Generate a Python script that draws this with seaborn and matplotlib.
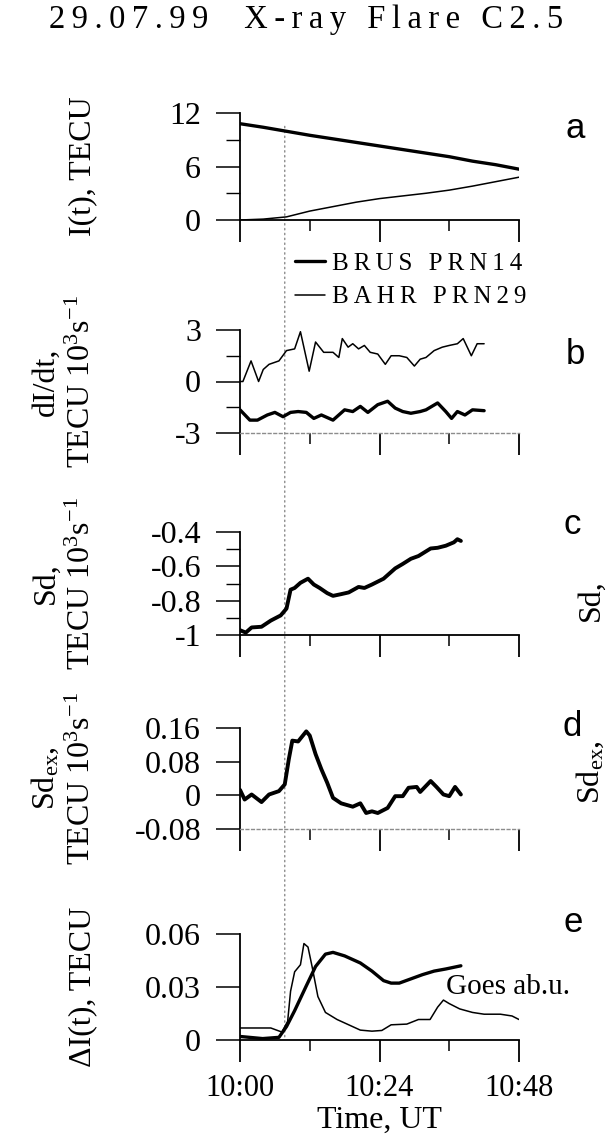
import matplotlib
matplotlib.use("Agg")
import matplotlib.pyplot as plt
import seaborn as sns
from matplotlib.patches import ConnectionPatch

# time axis (minutes after 10:00 UT)
x_major = [0, 24, 48]
x_minor = [12, 36]
x_labels = ["10:00", "10:24", "10:48"]
flare_t = 7.7

# panel a: I(t), TECU
t_a = [0, 4, 8, 12, 16, 20, 24, 28, 32, 36, 40, 44, 48]
I_brus = [10.8, 10.4, 9.95, 9.5, 9.1, 8.7, 8.3, 7.9, 7.5, 7.1, 6.6, 6.2, 5.7]
I_bahr = [0.0, 0.1, 0.35, 1.0, 1.5, 2.0, 2.4, 2.7, 3.0, 3.35, 3.8, 4.3, 4.8]

# panel b: dI/dt
t_b_bahr = [0, 0.5, 1.9, 3.2, 4, 5, 6.7, 8, 9.4, 10.4, 11.9, 13, 14.4, 16, 17, 17.6, 18.6,
            19.4, 20.4, 21.4, 22.4, 23.7, 25, 26, 27.4, 28.7, 30, 31, 32, 33.4, 34.8, 36,
            37.4, 38.4, 39.8, 40.8, 42]
dI_bahr = [0, 0, 1.2, 0, 0.7, 1.0, 1.2, 1.8, 1.9, 2.9, 0.6, 2.3, 1.7, 1.7, 1.4, 2.5, 2.0,
           2.2, 1.9, 2.1, 1.7, 1.6, 1.0, 1.5, 1.5, 1.4, 0.9, 1.3, 1.4, 1.8, 2.0, 2.1,
           2.2, 2.5, 1.5, 2.2, 2.2]
t_b_brus = [0, 1.7, 3, 4.7, 6, 7.4, 8.7, 10, 11.4, 12.7, 14, 16, 18, 19.4, 20.7, 22, 23.7,
            25.4, 26.7, 28, 29.4, 31, 32, 34, 35.4, 36.4, 37.4, 38.7, 40, 42]
dI_brus = [-1.65, -2.25, -2.25, -1.95, -1.8, -2.05, -1.8, -1.75, -1.8, -2.15, -1.95, -2.25,
           -1.65, -1.75, -1.45, -1.8, -1.35, -1.15, -1.55, -1.75, -1.85, -1.75, -1.65,
           -1.25, -1.75, -2.15, -1.75, -1.95, -1.65, -1.7]

# panel c: Sd
t_c = [0, 1, 2, 3.7, 5.3, 7, 8, 8.7, 9.4, 10.4, 11.7, 12.7, 13.7, 15, 16, 17.4, 18.7,
       20.4, 21.4, 22.7, 24.7, 26.7, 28, 29.4, 30.7, 32.8, 34, 35.4, 36.8, 37.4, 38]
sd = [-0.972, -0.986, -0.956, -0.952, -0.916, -0.886, -0.846, -0.736, -0.726, -0.696,
      -0.672, -0.706, -0.726, -0.756, -0.772, -0.762, -0.752, -0.72, -0.726, -0.706,
      -0.672, -0.612, -0.586, -0.556, -0.54, -0.496, -0.492, -0.48, -0.46, -0.442, -0.452]

# panel d: Sd_ex
t_d = [0, 0.8, 2, 3.7, 5, 6.7, 7.7, 8.4, 9, 10, 11.4, 12, 13, 14, 15, 16, 17.4, 19.4,
       20.7, 21.7, 22.7, 23.7, 25.4, 26.7, 28, 29, 30.4, 31, 32.8, 33.8, 35, 36, 37, 38]
sd_ex = [0.013, -0.01, 0.002, -0.016, 0.002, 0.01, 0.026, 0.086, 0.13, 0.128, 0.152,
         0.142, 0.098, 0.062, 0.03, -0.006, -0.019, -0.027, -0.019, -0.042, -0.038,
         -0.042, -0.03, -0.002, -0.002, 0.018, 0.02, 0.008, 0.034, 0.02, 0.002, -0.002,
         0.02, 0.002]

# panel e: delta I and GOES flux
t_e = [0, 3.9, 6.7, 8, 9.4, 11.4, 13, 14.7, 16, 18, 20.7, 22.7, 24.7, 26, 27.4, 29.4,
       31.4, 33.4, 35.4, 38]
delta_I = [0.002, 0.0008, 0.0015, 0.0076, 0.0166, 0.0306, 0.0416, 0.0486, 0.0496, 0.0476,
           0.0436, 0.039, 0.0336, 0.0322, 0.0322, 0.0346, 0.037, 0.039, 0.0402, 0.042]
t_goes = [0, 5.3, 7.2, 8.2, 8.7, 9.4, 10.4, 11, 11.7, 12.4, 13.4, 14.7, 16.7, 18.7, 20.7,
          22.7, 24.4, 26, 28.7, 30.7, 32.7, 34, 35, 36, 37.8, 40, 42, 44.8, 46.8, 48]
goes = [0.0068, 0.0068, 0.0045, 0.0106, 0.0276, 0.0386, 0.0426, 0.0546, 0.0526, 0.0416,
        0.0246, 0.0156, 0.0116, 0.0086, 0.0056, 0.005, 0.0054, 0.0086, 0.009, 0.0116,
        0.0116, 0.0186, 0.0226, 0.0206, 0.0176, 0.0156, 0.0146, 0.0146, 0.0136, 0.0116]


def spaced(s):
    # letter-spaced look of the scanned figure
    return "\u2009".join(s)


sns.set_theme(style="ticks")
plt.rcParams["font.family"] = ["Liberation Serif", "DejaVu Serif"]
plt.rcParams["mathtext.fontset"] = "custom"
plt.rcParams["mathtext.rm"] = "Liberation Serif"
plt.rcParams["mathtext.it"] = "Liberation Serif:italic"
plt.rcParams["axes.edgecolor"] = "black"
plt.rcParams["xtick.color"] = "black"
plt.rcParams["ytick.color"] = "black"
plt.rcParams["text.color"] = "black"
plt.rcParams["axes.labelcolor"] = "black"

W, H = 608, 1143
fig = plt.figure(figsize=(W / 100, H / 100), dpi=100)
fig.patch.set_facecolor("white")

panels = [("a", 113, 220), ("b", 330, 433), ("c", 532, 635), ("d", 728, 829), ("e", 934, 1040)]
axes = {}
for name, top, bottom in panels:
    axes[name] = fig.add_axes([240 / W, 1 - bottom / H, 279 / W, (bottom - top) / H])

THICK, THIN = 2.4, 1.1
TECU = "TECU 10$^\\mathregular{3}$s$^\\mathregular{-1}$"


def style(ax, ylim, yticks, ylabels, yminor, ylabel):
    ax.set_facecolor("none")
    ax.set_xlim(0, 48)
    ax.set_ylim(*ylim)
    ax.set_xticks(x_major, labels=["", "", ""])
    ax.set_xticks(x_minor, minor=True)
    ax.set_yticks(yticks, labels=ylabels)
    ax.set_yticks(yminor, minor=True)
    ax.set_xlabel("")
    ax.set_ylabel(ylabel, fontsize=23, linespacing=1.3)
    # labels sit at a common x in the original, right edge ~97 px
    ax.yaxis.set_label_coords((97 - 240) / 279, 0.5)
    sns.despine(ax=ax)
    for sp in ("left", "bottom"):
        ax.spines[sp].set_linewidth(1.3)
        ax.spines[sp].set_color("black")
    ax.tick_params(axis="x", which="major", length=15.5, width=1.3, direction="out")
    ax.tick_params(axis="x", which="minor", length=8, width=1.1, direction="out")
    ax.tick_params(axis="y", which="major", length=17, width=1.1, pad=11,
                   labelsize=23, direction="out")
    ax.tick_params(axis="y", which="minor", length=10, width=1.0, direction="out")
    ax.grid(False)


# a
ax = axes["a"]
sns.lineplot(x=t_a, y=I_brus, ax=ax, color="black", linewidth=THICK,
             sort=False, estimator=None)
sns.lineplot(x=t_a, y=I_bahr, ax=ax, color="black", linewidth=THIN,
             sort=False, estimator=None)
style(ax, (0, 12), [0, 6, 12], ["0", "6", "12"], [3, 9], "I(t), TECU")
h_brus, h_bahr = ax.get_lines()[:2]

# b
ax = axes["b"]
sns.lineplot(x=t_b_bahr, y=dI_bahr, ax=ax, color="black", linewidth=THIN,
             sort=False, estimator=None)
sns.lineplot(x=t_b_brus, y=dI_brus, ax=ax, color="black", linewidth=THICK,
             sort=False, estimator=None)
style(ax, (-3, 3), [-3, 0, 3], ["-3", "0", "3"], [-1.5, 1.5], "dI/dt,\n" + TECU)
ax.spines["bottom"].set_color("#8c8c8c")
ax.spines["bottom"].set_linestyle((0, (2, 2)))
ax.spines["bottom"].set_linewidth(1.0)

# c
ax = axes["c"]
sns.lineplot(x=t_c, y=sd, ax=ax, color="black", linewidth=THICK + 0.4,
             sort=False, estimator=None)
style(ax, (-1, -0.4), [-1, -0.8, -0.6, -0.4], ["-1", "-0.8", "-0.6", "-0.4"],
      [-0.9, -0.7, -0.5], "Sd,\n" + TECU)

# d
ax = axes["d"]
sns.lineplot(x=t_d, y=sd_ex, ax=ax, color="black", linewidth=THICK + 0.4,
             sort=False, estimator=None)
style(ax, (-0.08, 0.16), [-0.08, 0, 0.08, 0.16], ["-0.08", "0", "0.08", "0.16"],
      [], "Sd$_\\mathregular{ex}$,\n" + TECU)
ax.spines["bottom"].set_color("#8c8c8c")
ax.spines["bottom"].set_linestyle((0, (2, 2)))
ax.spines["bottom"].set_linewidth(1.0)

# e
ax = axes["e"]
sns.lineplot(x=t_goes, y=goes, ax=ax, color="black", linewidth=THIN,
             sort=False, estimator=None)
sns.lineplot(x=t_e, y=delta_I, ax=ax, color="black", linewidth=THICK,
             sort=False, estimator=None)
style(ax, (0, 0.06), [0, 0.03, 0.06], ["0", "0.03", "0.06"], [], "\u0394I(t), TECU")
ax.set_xticks(x_major, labels=x_labels)
ax.tick_params(axis="x", which="major", labelsize=22, pad=9)
ax.set_xlabel("Time, UT", fontsize=23, labelpad=2)
ax.text(35.4, 0.03, "Goes ab.u.", fontsize=21, ha="left", va="center")

# panel letters
for name, (px, py) in zip("abcde", [(575, 129), (575, 355), (572, 525), (572, 727), (573, 922)]):
    fig.text(px / W, 1 - py / H, name, fontsize=25, family="Liberation Sans",
             ha="center", va="center")

# flare onset marker through all panels
con = ConnectionPatch(xyA=(flare_t, 10.5), coordsA=axes["a"].transData,
                      xyB=(flare_t, 0), coordsB=axes["e"].transData,
                      color="#8a8a8a", linewidth=1.0, linestyle=(0, (1, 2.5)), zorder=0)
fig.add_artist(con)

for a in axes.values():
    if a.get_legend() is not None:
        a.get_legend().remove()

fig.legend([h_brus, h_bahr], [spaced("BRUS PRN14"), spaced("BAHR PRN29")],
           loc="upper left", bbox_to_anchor=(295 / W, 1 - 252 / H), frameon=False,
           fontsize=18, handlelength=1.2, handletextpad=0.3, labelspacing=0.45,
           borderpad=0, borderaxespad=0)

fig.text(306 / W, 1 - 20 / H, spaced("29.07.99  X-ray Flare C2.5"), fontsize=23.5,
         ha="center", va="center")

# labels of the neighbouring figure, squeezed against the right edge
fig.text(606 / W, 1 - 600 / H, "Sd,", fontsize=23, rotation=90, ha="right", va="center")
fig.text(606 / W, 1 - 772 / H, "Sd$_\\mathregular{ex}$,", fontsize=23, rotation=90,
         ha="right", va="center")

fig.savefig("out.png", dpi=100)
plt.close(fig)
